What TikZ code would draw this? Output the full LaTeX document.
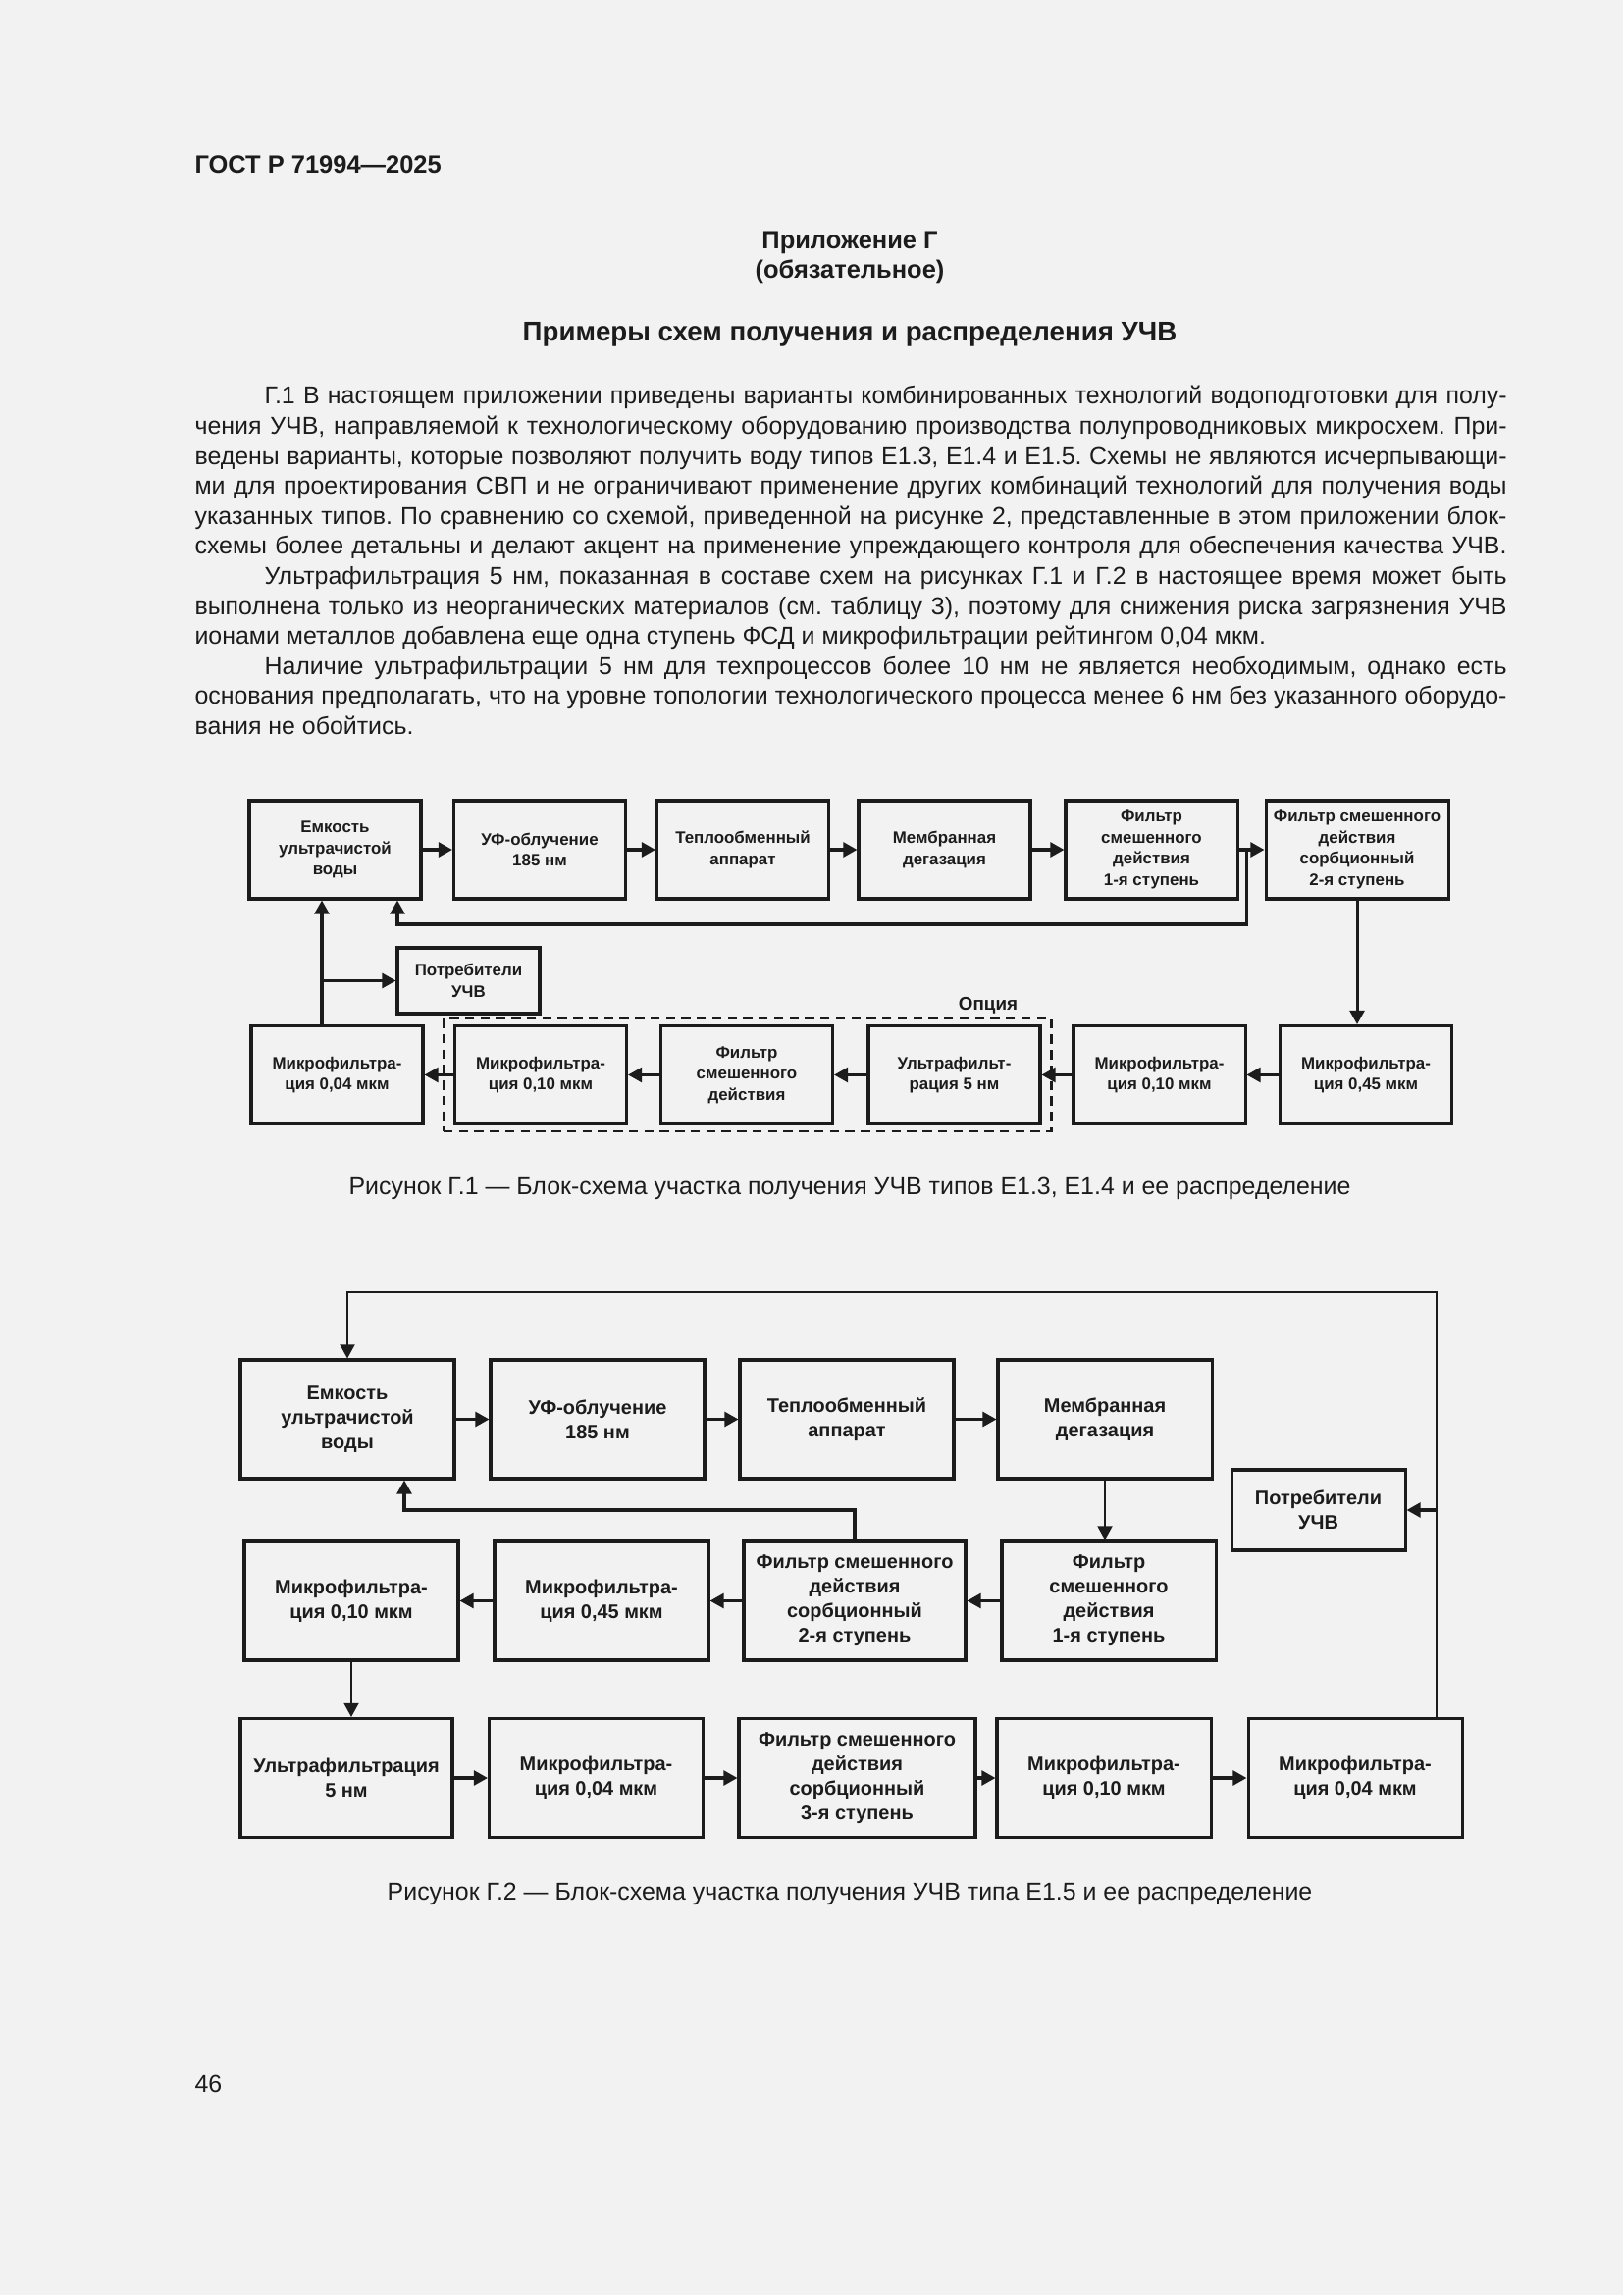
\documentclass[tikz,border=0pt]{standalone}
\usepackage{fontspec}
\setmainfont{Liberation Sans}
\usetikzlibrary{arrows.meta,positioning,fit,calc}
\newdimen\pxu \pxu=0.127mm
\definecolor{paper}{HTML}{F2F2F2}
\definecolor{ink}{HTML}{1C1C1C}
\setlength\parindent{0pt}
\setlength\parskip{0pt}
\frenchspacing

\begin{document}
\begin{tikzpicture}[
    every node/.style={inner sep=0pt,text=ink},
    blkA/.style={draw=ink,line width=1.1pt,minimum width=175\pxu,minimum height=100\pxu,
                align=center,font=\bfseries\fontsize{6.1}{7.8}\selectfont},
    blkB/.style={draw=ink,line width=1.1pt,minimum width=218\pxu,minimum height=121\pxu,
                align=center,font=\bfseries\fontsize{7.2}{9}\selectfont},
    line/.style={-{Triangle[length=1.8mm,width=1.9mm]},line width=1.1pt,ink},
    tline/.style={-{Triangle[length=1.8mm,width=1.9mm]},line width=0.75pt,ink},
    body/.style={font=\fontsize{9}{11.05}\selectfont},
    capt/.style={font=\fontsize{9}{11}\selectfont,anchor=base},
    head/.style={font=\bfseries\fontsize{9.2}{11}\selectfont},
    x=0.127mm, y=-0.127mm
]

% Page
\fill[paper] (0,0) rectangle (1654,2339);
\useasboundingbox (0,0) rectangle (1654,2339);

% Header and title
\node[head,anchor=base west] (hdr) at (198,177) {ГОСТ Р 71994—2025};
\node[head,anchor=base] (app) at (866,254) {Приложение Г};
\node[head,anchor=base] (obl) at (866,284) {(обязательное)};
\node[head,anchor=base,font=\bfseries\fontsize{10}{12}\selectfont] (ttl) at (866,348)
    {Примеры схем получения и распределения УЧВ};

% Body text
\node[body,anchor=base west,text width=1337\pxu,align=justify] (txt) at (198,412) {%
\hspace*{71\pxu}Г.1 В настоящем приложении приведены варианты комбинированных технологий водоподготовки для полу-\linebreak
чения УЧВ, направляемой к технологическому оборудованию производства полупроводниковых микросхем. При-\linebreak
ведены варианты, которые позволяют получить воду типов Е1.3, Е1.4 и Е1.5. Схемы не являются исчерпывающи-\linebreak
ми для проектирования СВП и не ограничивают применение других комбинаций технологий для получения воды\linebreak
указанных типов. По сравнению со схемой, приведенной на рисунке 2, представленные в этом приложении блок-\linebreak
схемы более детальны и делают акцент на применение упреждающего контроля для обеспечения качества УЧВ.{\parfillskip=0pt\par}
\hspace*{71\pxu}Ультрафильтрация 5 нм, показанная в составе схем на рисунках Г.1 и Г.2 в настоящее время может быть\linebreak
выполнена только из неорганических материалов (см. таблицу 3), поэтому для снижения риска загрязнения УЧВ\linebreak
ионами металлов добавлена еще одна ступень ФСД и микрофильтрации рейтингом 0,04 мкм.\par
\hspace*{71\pxu}Наличие ультрафильтрации 5 нм для техпроцессов более 10 нм не является необходимым, однако есть\linebreak
основания предполагать, что на уровне топологии технологического процесса менее 6 нм без указанного оборудо-\linebreak
вания не обойтись.};

% Figure G.1: top row
\node[blkA] (tank1) at (341.5,866) {Емкость\\ультрачистой\\воды};
\node[blkA] (uv1) at (550,866) {УФ-облучение\\185 нм};
\node[blkA] (heat1) at (757,866) {Теплообменный\\аппарат};
\node[blkA] (degas1) at (962.5,866) {Мембранная\\дегазация};
\node[blkA] (fsd1) at (1173.5,866) {Фильтр\\смешенного\\действия\\1-я ступень};
\node[blkA,minimum width=186\pxu] (fsd2) at (1383,866)
    {Фильтр смешенного\\действия\\сорбционный\\2-я ступень};

\draw[line] (tank1) -- (uv1);
\draw[line] (uv1) -- (heat1);
\draw[line] (heat1) -- (degas1);
\draw[line] (degas1) -- (fsd1);
\draw[line] (fsd1) -- (fsd2);

% Figure G.1: return to the tank
\coordinate (fb1) at (1270,866);
\coordinate (fb2) at (405,942);
\draw[line] (fb1) |- (fb2) -- (fb2 |- tank1.south);

% Figure G.1: bottom row
\node[blkA] (mf04a) at (343.5,1095.5) {Микрофильтра-\\ция 0,04 мкм};
\node[blkA] (mf10a) at (551,1095.5) {Микрофильтра-\\ция 0,10 мкм};
\node[blkA] (fsd3) at (761,1095.5) {Фильтр\\смешенного\\действия};
\node[blkA] (uf1) at (972.5,1095.5) {Ультрафильт-\\рация 5 нм};
\node[blkA] (mf10b) at (1181.5,1095.5) {Микрофильтра-\\ция 0,10 мкм};
\node[blkA] (mf45a) at (1392,1095.5) {Микрофильтра-\\ция 0,45 мкм};

\draw[line] (fsd2) -- (fsd2 |- mf45a.north);
\draw[line] (mf45a) -- (mf10b);
\draw[line] (mf10b) -- (uf1);
\draw[line] (uf1) -- (fsd3);
\draw[line] (fsd3) -- (mf10a);
\draw[line] (mf10a) -- (mf04a);

% Option frame
\node[draw=ink,line width=0.9pt,dash pattern=on 1.2mm off 0.8mm,fit=(mf10a)(uf1),
      inner xsep=10\pxu,inner ysep=6\pxu] (opt) {};
\node[anchor=base,font=\bfseries\fontsize{6.8}{8}\selectfont] (optlbl) at (1007,1029) {Опция};

% Consumers
\node[blkA,minimum width=145\pxu,minimum height=67\pxu] (users1) at (477.5,999.5) {Потребители\\УЧВ};
\coordinate (up1) at (328,999.5);
\draw[line] (up1 |- mf04a.north) -- (up1 |- tank1.south);
\draw[line] (up1) -- (users1);

\node[capt] (cap1) at (866,1217)
    {Рисунок Г.1 — Блок-схема участка получения УЧВ типов Е1.3, Е1.4 и ее распределение};

% Figure G.2: top row
\node[blkB] (tank2) at (354,1446.5) {Емкость\\ультрачистой\\воды};
\node[blkB] (uv2) at (609,1446.5) {УФ-облучение\\185 нм};
\node[blkB] (heat2) at (863,1446.5) {Теплообменный\\аппарат};
\node[blkB] (degas2) at (1126,1446.5) {Мембранная\\дегазация};
\node[blkB,minimum width=177\pxu,minimum height=82\pxu] (users2) at (1343.5,1539) {Потребители\\УЧВ};

\draw[line] (tank2) -- (uv2);
\draw[line] (uv2) -- (heat2);
\draw[line] (heat2) -- (degas2);

% Figure G.2: middle row
\node[blkB] (mf10c) at (358,1631.5) {Микрофильтра-\\ция 0,10 мкм};
\node[blkB] (mf45b) at (613,1631.5) {Микрофильтра-\\ция 0,45 мкм};
\node[blkB,minimum width=226\pxu] (fsd5) at (871,1631.5)
    {Фильтр смешенного\\действия\\сорбционный\\2-я ступень};
\node[blkB] (fsd4) at (1130,1631.5) {Фильтр\\смешенного\\действия\\1-я ступень};

\draw[tline] (degas2) -- (degas2 |- fsd4.north);
\draw[line] (fsd4) -- (fsd5);
\draw[line] (fsd5) -- (mf45b);
\draw[line] (mf45b) -- (mf10c);

% Figure G.2: bottom row
\node[blkB,minimum width=216\pxu] (uf2) at (353,1812) {Ультрафильтрация\\5 нм};
\node[blkB] (mf04b) at (607.5,1812) {Микрофильтра-\\ция 0,04 мкм};
\node[blkB,minimum width=241\pxu] (fsd6) at (873.5,1812)
    {Фильтр смешенного\\действия\\сорбционный\\3-я ступень};
\node[blkB] (mf10d) at (1125,1812) {Микрофильтра-\\ция 0,10 мкм};
\node[blkB] (mf04c) at (1381,1812) {Микрофильтра-\\ция 0,04 мкм};

\draw[tline] (mf10c) -- (mf10c |- uf2.north);
\draw[line] (uf2) -- (mf04b);
\draw[line] (mf04b) -- (fsd6);
\draw[line] (fsd6) -- (mf10d);
\draw[line] (mf10d) -- (mf04c);

% Figure G.2: loops back to the tank and to the consumers
\coordinate (lp1) at (1464,1317);
\coordinate (lp2) at (1464,1539);
\draw[tline] (lp1 |- mf04c.north) -- (lp1) -| (tank2.north);
\draw[line] (lp2) -- (users2);
\coordinate (rt2) at (412,1539);
\draw[line] (fsd5.north) |- (rt2) -- (rt2 |- tank2.south);

\node[capt] (cap2) at (866,1936)
    {Рисунок Г.2 — Блок-схема участка получения УЧВ типа Е1.5 и ее распределение};

\node[anchor=base west,font=\fontsize{9}{11}\selectfont] (pgno) at (198,2132) {46};

\end{tikzpicture}
\end{document}
